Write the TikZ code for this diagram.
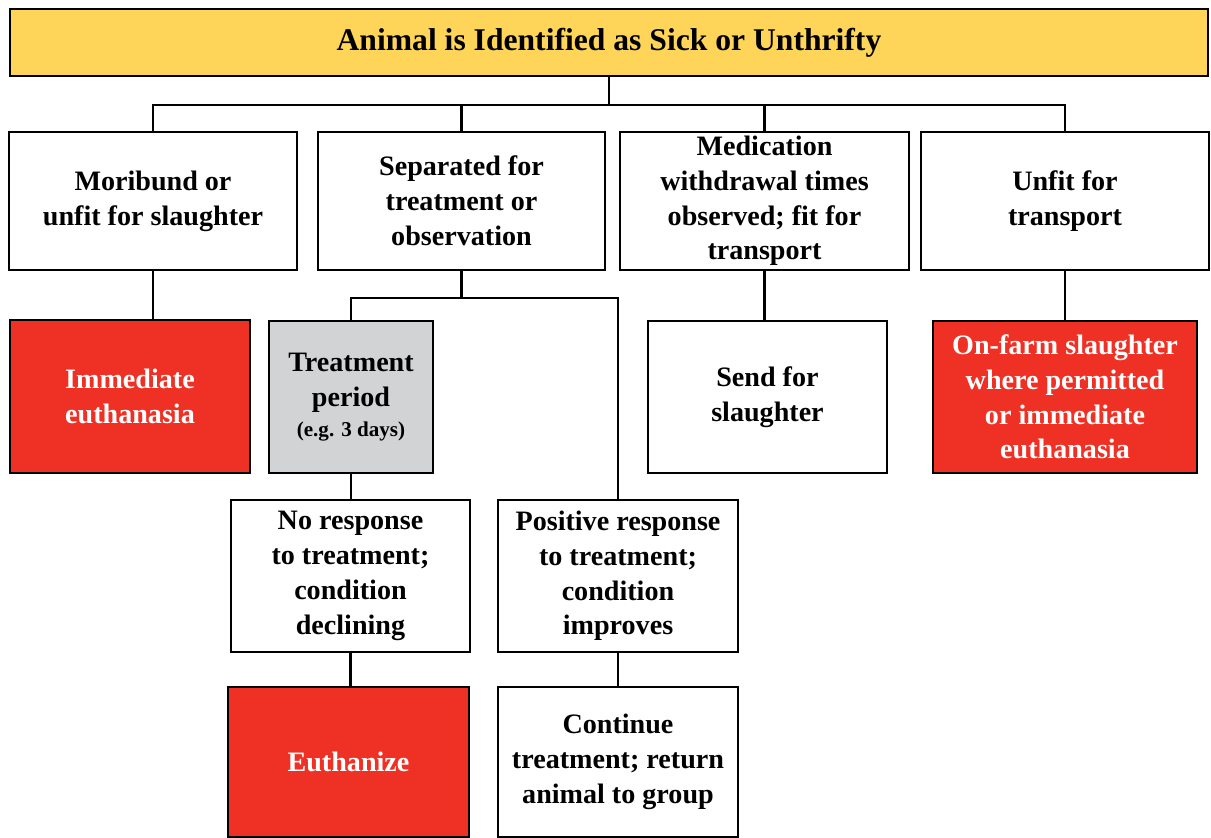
\documentclass[tikz,border=0pt]{standalone}
\usepackage{fontspec}
\setmainfont{Liberation Serif}
\definecolor{titleyellow}{HTML}{FED558}
\definecolor{alertred}{HTML}{EE3124}
\definecolor{holdgray}{HTML}{D1D3D4}
\begin{document}
\begin{tikzpicture}[x=0.02cm, y=-0.02cm,
    box/.style={draw, line width=1.5pt, fill=white, align=center, inner sep=2pt,
      font=\fontsize{16}{19.8}\selectfont\bfseries},
    redbox/.style={box, fill=alertred, text=white},
    link/.style={line width=1.3pt}]
      % \draw[step=50, gray, very thin] (0, 0) grid (1211, 838);
      \useasboundingbox (0, 0) rectangle (1211, 838);

      \node[box, fill=titleyellow, minimum width=23.96cm, minimum height=1.34cm,
        font=\fontsize{18}{21}\selectfont\bfseries] (top) at (609, 42.5)
        {Animal is Identified as Sick or Unthrifty};

      \node[box, minimum width=5.76cm, minimum height=2.76cm] (mori) at (153, 201)
        {Moribund or\\unfit for slaughter};
      \node[box, minimum width=5.74cm, minimum height=2.76cm] (sep) at (461.5, 201)
        {Separated for\\treatment or\\observation};
      \node[box, minimum width=5.78cm, minimum height=2.76cm] (med) at (764.5, 201)
        {Medication\\withdrawal times\\observed; fit for\\transport};
      \node[box, minimum width=5.76cm, minimum height=2.76cm] (unfit) at (1065, 201)
        {Unfit for\\transport};

      \node[redbox, minimum width=4.8cm, minimum height=3.06cm] (immed) at (130, 396.5)
        {Immediate\\euthanasia};
      \node[box, fill=holdgray, minimum width=3.28cm, minimum height=3.04cm] (treat) at (351, 397)
        {Treatment\\period\\[-3pt]{\fontsize{12}{14}\selectfont(e.g. 3 days)}};
      \node[box, minimum width=4.78cm, minimum height=3.04cm] (send) at (767.5, 397)
        {Send for\\slaughter};
      \node[redbox, minimum width=5.28cm, minimum height=3.04cm] (onfarm) at (1065, 397)
        {On-farm slaughter\\where permitted\\or immediate\\euthanasia};

      \node[box, minimum width=4.78cm, minimum height=3.04cm] (nores) at (350.5, 576)
        {No response\\to treatment;\\condition\\declining};
      \node[box, minimum width=4.8cm, minimum height=3.04cm] (posres) at (618, 576)
        {Positive response\\to treatment;\\condition\\improves};

      \node[redbox, minimum width=4.82cm, minimum height=3.0cm] (euth) at (348.5, 762)
        {Euthanize};
      \node[box, minimum width=4.8cm, minimum height=3.0cm] (cont) at (618, 762)
        {Continue\\treatment; return\\animal to group};

      \coordinate (hub) at (top.south |- 0, 105);
      \coordinate (split) at (sep.south |- 0, 298);

      \draw[link] (top.south) -- (hub);
      \draw[link] (mori.north) |- (hub) -| (unfit.north);
      \draw[link] (sep.north) -- (sep.north |- hub);
      \draw[link] (med.north) -- (med.north |- hub);

      \draw[link] (mori.south) -- (mori.south |- immed.north);
      \draw[link] (sep.south) -- (split);
      \draw[link] (treat.north) |- (split) -| (posres.north);
      \draw[link] (med.south) -- (med.south |- send.north);
      \draw[link] (unfit.south) -- (onfarm.north);

      \draw[link] (treat.south) -- (treat.south |- nores.north);
      \draw[link] (nores.south) -- (nores.south |- euth.north);
      \draw[link] (posres.south) -- (cont.north);
    \end{tikzpicture}
\end{document}
